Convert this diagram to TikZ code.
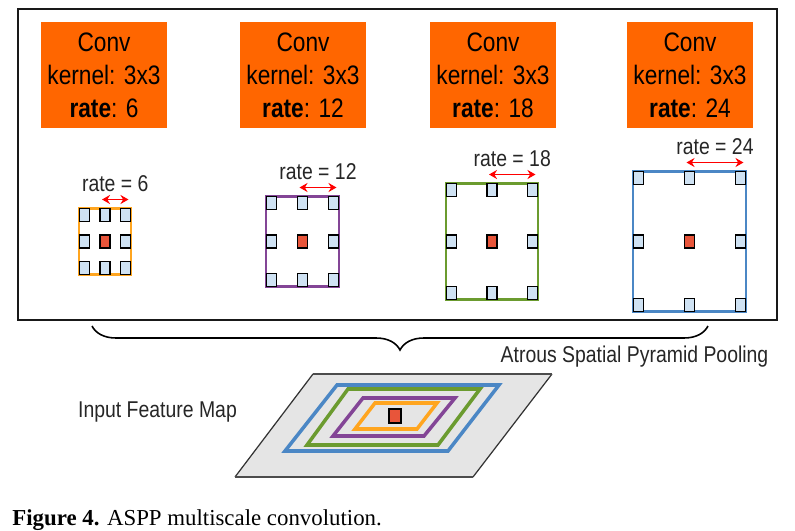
\documentclass[tikz,border=0pt]{standalone}
\usepackage{fontspec}
\setmainfont{Liberation Sans}[FakeStretch=0.85]
\newfontfamily\captionfont{Liberation Serif}
\usetikzlibrary{arrows.meta,decorations.pathreplacing}
\definecolor{convorange}{HTML}{FF6600}
\definecolor{tapblue}{HTML}{CFE2F3}
\definecolor{hubred}{HTML}{E8553A}
\definecolor{ringorange}{HTML}{FFA51F}
\definecolor{ringpurple}{HTML}{834596}
\definecolor{ringgreen}{HTML}{6B9B2F}
\definecolor{ringblue}{HTML}{4B87C5}
\definecolor{planegray}{HTML}{E5E5E5}
\tikzset{
  convbox/.style={fill=convorange, minimum width=2.52cm, minimum height=2.12cm, inner sep=0pt, align=center, font=\fontsize{15.2}{18.8}\selectfont},
  ratelabel/.style={font=\fontsize{13}{15}\selectfont, text=black!85, inner sep=0pt},
  tapbox/.style={draw=black, line width=0.9pt, fill=tapblue, minimum width=0.2cm, minimum height=0.26cm, inner sep=0pt},
  hubbox/.style={tapbox, fill=hubred},
  dot0/.style={hubbox}, dot1/.style={tapbox}, dot2/.style={tapbox},
  ring/.style={line width=1.5pt},
  ratespan/.style={{Stealth[length=1.6mm,width=1.8mm]}-{Stealth[length=1.6mm,width=1.8mm]}, red, line width=1pt},
  planering/.style={line width=2pt},
  bracket/.style={decorate, decoration={brace, amplitude=0.48cm}, line width=0.9pt}
}

\begin{document}
\begin{tikzpicture}[x=0.02cm, y=-0.02cm]
  \useasboundingbox (0,0) rectangle (795,531);
  % outer frame
  \draw[line width=1.3pt, black!90] (18,9) rectangle (777,320);

  % conv blocks
  \foreach \i/\cx/\r in {1/104/6, 2/303/12, 3/493/18, 4/690/24}
    \node[convbox] (conv\i) at (\cx,75) {Conv\\kernel: 3x3\\\textbf{rate}: \r};

  % dilated kernels
  \foreach \i/\cx/\hw/\hh/\col/\r in {1/105/26/33/ringorange/6, 2/302.5/36.5/45/ringpurple/12,
      3/492/46/58/ringgreen/18, 4/689.5/56.5/70/ringblue/24} {
    \draw[ring, draw=\col] ({\cx-\hw},{241.5-\hh}) rectangle ({\cx+\hw},{241.5+\hh});
    \foreach \u in {0,1,2}
      \foreach \v in {0,1,2} {
        \pgfmathtruncatemacro\k{abs(\u-1)+abs(\v-1)}
        \node[dot\k] (tap\i\u\v) at ({\cx+(\u-1)*(\hw-5.5)},{241.5+(\v-1)*(\hh-6.5)}) {};
      }
    \coordinate (spanL\i) at ({\cx-3},{241.5-\hh-9});
    \coordinate (spanR\i) at ({\cx+\hw-2.5},{241.5-\hh-9});
    \draw[ratespan] (spanL\i) -- node[ratelabel, above=4pt] (rate\i) {rate = \r} (spanR\i);
  }

  % brace and caption of the block
  \draw[bracket] (708,326) -- (92,326);
  \node[ratelabel] (aspp) at (634.5,357) {Atrous Spatial Pyramid Pooling};

  % input feature map
  \fill[planegray] (235,477) -- (313,374) -- (552,374) -- (473,477) -- cycle;
  \draw[black!80, line width=0.7pt] (235,477) -- (313,374) (552,374) -- (473,477);
  \draw[black!70, line width=1.4pt] (313,374) -- (552,374) (235,477) -- (473,477);
  \foreach \col/\tl/\tr/\ty/\bl/\br/\by in {ringblue/337/499/385/285/448/451,
      ringgreen/348/480/389/307/438/445, ringpurple/363/455/398/333/424/436,
      ringorange/375/437/403/355/417/429}
    \draw[planering, draw=\col] (\tl,\ty) -- (\tr,\ty) -- (\br,\by) -- (\bl,\by) -- cycle;
  \node[hubbox, minimum width=0.24cm, minimum height=0.28cm] (hub) at (395,416) {};
  \node[ratelabel] (ifm) at (157.5,412) {Input Feature Map};

  % figure caption
  \node[anchor=west, inner sep=0pt, font=\captionfont\fontsize{13}{15}\selectfont] (cap) at (12,520)
    {\textbf{Figure 4.} ASPP multiscale convolution.};
\end{tikzpicture}
\end{document}
